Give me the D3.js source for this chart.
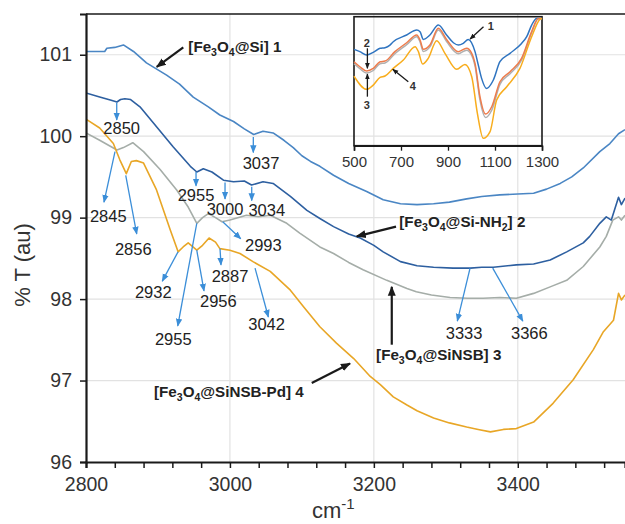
<!DOCTYPE html>
<html>
<head>
<meta charset="utf-8">
<script src="https://cdn.jsdelivr.net/npm/d3@7"></script>
<style>
  body { margin: 0; background: #fff; }
  svg { display: block; }
  text { font-family: "Liberation Sans", Arial, sans-serif; }
</style>
</head>
<body>
<div id="chart"></div>
<script>
// ---- data ----
const xTickLabels = [2800, 3000, 3200, 3400];
const yTickLabels = [96, 97, 98, 99, 100, 101];
const insetTickLabels = [500, 700, 900, 1100, 1300];

// main spectra: [wavenumber, %T]
const series1 = [[2800,101.04],[2826,101.04],[2829,101.08],[2840,101.09],[2852,101.12],[2866,101.04],[2884,100.9],[2912,100.75],[2930,100.64],[2949,100.48],[2970,100.36],[2986,100.26],[3005,100.18],[3020,100.09],[3033,100.02],[3046,100.06],[3060,100.04],[3075,99.95],[3088,99.86],[3100,99.76],[3112,99.69],[3125,99.63],[3144,99.52],[3165,99.42],[3190,99.32],[3213,99.22],[3237,99.17],[3260,99.16],[3283,99.17],[3305,99.19],[3329,99.23],[3350,99.26],[3375,99.28],[3400,99.29],[3422,99.3],[3440,99.35],[3459,99.42],[3475,99.5],[3491,99.61],[3514,99.81],[3528,99.91],[3540,100.03],[3549,100.08]];
const series2 = [[2800,100.53],[2819,100.48],[2835,100.44],[2843,100.42],[2848,100.45],[2854,100.46],[2862,100.45],[2875,100.36],[2894,100.16],[2921,99.87],[2945,99.63],[2954,99.56],[2963,99.6],[2975,99.56],[2991,99.46],[3005,99.44],[3020,99.45],[3030,99.4],[3046,99.44],[3060,99.42],[3084,99.26],[3107,99.09],[3125,98.99],[3144,98.89],[3165,98.8],[3181,98.75],[3200,98.66],[3213,98.58],[3237,98.46],[3260,98.41],[3283,98.39],[3310,98.38],[3334,98.38],[3350,98.39],[3366,98.39],[3398,98.42],[3422,98.43],[3445,98.48],[3468,98.58],[3491,98.69],[3500,98.77],[3514,98.93],[3523,99.01],[3530,98.97],[3540,99.25],[3544,99.16],[3549,99.24]];
const series3 = [[2800,100.04],[2819,99.95],[2835,99.87],[2843,99.83],[2852,99.86],[2865,99.92],[2880,99.81],[2903,99.59],[2926,99.34],[2942,99.13],[2954,98.93],[2962,99.0],[2970,99.05],[2980,99.0],[2989,98.95],[3000,98.97],[3023,99.03],[3040,99.01],[3056,99.03],[3079,98.93],[3097,98.81],[3125,98.64],[3144,98.56],[3165,98.45],[3185,98.36],[3218,98.23],[3246,98.13],[3259,98.09],[3280,98.05],[3306,98.02],[3330,98.01],[3352,98.01],[3375,98.02],[3398,98.01],[3422,98.07],[3445,98.15],[3468,98.23],[3491,98.4],[3514,98.64],[3523,98.77],[3532,98.97],[3540,99.01],[3544,98.97],[3549,99.03]];
const series4 = [[2800,100.21],[2819,100.1],[2838,99.91],[2847,99.71],[2856,99.54],[2863,99.69],[2870,99.7],[2880,99.67],[2898,99.34],[2917,98.85],[2928,98.58],[2935,98.64],[2942,98.69],[2954,98.6],[2962,98.66],[2971,98.75],[2980,98.7],[2986,98.62],[3000,98.6],[3014,98.56],[3032,98.46],[3056,98.34],[3084,98.11],[3102,97.91],[3125,97.66],[3148,97.46],[3172,97.27],[3195,97.05],[3209,96.95],[3227,96.8],[3246,96.7],[3260,96.63],[3283,96.54],[3305,96.48],[3329,96.43],[3345,96.4],[3362,96.37],[3380,96.4],[3398,96.41],[3422,96.49],[3449,96.72],[3477,97.01],[3505,97.38],[3519,97.6],[3533,97.74],[3540,98.07],[3544,97.99],[3549,98.05]];

// inset spectra (500-1300 cm-1), relative units 0-100
const inset1 = [[500,74.7],[525,72.9],[554,70.3],[582,72.4],[611,75.5],[632,76.0],[653,78.0],[667,80.6],[724,85.8],[767,89.7],[781,88.4],[795,82.4],[823,85.8],[859,93.5],[894,85.8],[923,79.8],[944,78.0],[965,79.3],[986,82.4],[1015,72.9],[1029,62.5],[1043,52.2],[1064,44.4],[1093,50.9],[1121,65.1],[1164,71.6],[1213,79.3],[1235,84.5],[1256,93.5],[1277,98.7],[1300,98.7]];
const inset2 = [[500,65.1],[525,61.2],[554,57.9],[582,59.9],[611,65.1],[632,65.6],[674,72.9],[724,79.8],[767,85.8],[781,81.9],[795,74.7],[823,78.0],[859,91.0],[894,82.4],[944,72.9],[979,75.5],[1001,71.6],[1015,63.8],[1036,38.0],[1060,24.5],[1086,30.2],[1121,49.6],[1164,57.4],[1213,67.7],[1256,88.4],[1284,98.7],[1300,98.7]];
const inset3 = [[500,63.5],[525,59.7],[554,56.3],[582,58.3],[611,63.6],[632,64.1],[674,71.3],[724,78.3],[767,84.5],[781,80.5],[795,73.0],[823,76.6],[859,89.7],[894,80.8],[944,71.3],[979,74.0],[1001,70.0],[1015,62.0],[1036,35.5],[1060,21.9],[1086,27.5],[1121,47.5],[1164,55.8],[1213,66.3],[1256,87.5],[1284,98.4],[1300,98.5]];
const inset4 = [[500,54.0],[554,43.7],[582,47.0],[611,53.0],[632,54.0],[667,59.9],[710,66.4],[760,76.7],[774,72.9],[792,63.3],[816,67.7],[852,81.4],[887,71.6],[937,59.2],[972,63.0],[1001,53.5],[1025,25.1],[1050,5.7],[1079,10.9],[1107,35.4],[1150,45.7],[1206,59.9],[1256,84.5],[1291,97.9],[1300,98.7]];

const mainColors = ["#4a86c4", "#2d5fa0", "#a5ada8", "#e8a626"];
// inset drawing order: 3 (gray) first, then 1, 2, 4
const insetSeries = [inset3, inset1, inset2, inset4];
const insetColors = ["#b0b0b0", "#2f74c0", "#ee7c4c", "#f8ad1d"];

// peak call-outs: text, arrow start, arrow end, label position (data units)
const peakLabels = [
  {t: "2850", from: [2842.7,100.41], to: [2842.7,100.2], at: [2849.6,100.10]},
  {t: "3037", from: [3032.5,99.99], to: [3032.5,99.8], at: [3043.2,99.67]},
  {t: "2845", from: [2840.3,99.81], to: [2825,99.19], at: [2831,99.02]},
  {t: "2856", from: [2855.2,99.52], to: [2870.5,98.8], at: [2865.7,98.62]},
  {t: "2955", from: [2952.9,99.56], to: [2952.9,99.39], at: [2952.9,99.28]},
  {t: "3000", from: [2993.2,99.43], to: [2993.2,99.23], at: [2993.2,99.11]},
  {t: "3034", from: [3030.3,99.38], to: [3030.3,99.21], at: [3051.2,99.09]},
  {t: "2993", from: [2990,98.95], to: [3015,98.74], at: [3046.4,98.66]},
  {t: "2932", from: [2927.9,98.58], to: [2906,98.22], at: [2893.5,98.09]},
  {t: "2955", from: [2953.9,98.93], to: [2927.5,97.67], at: [2921.3,97.51]},
  {t: "2956", from: [2953.9,98.6], to: [2964,98.1], at: [2983.9,97.98]},
  {t: "2887", from: [2986.2,98.62], to: [2987.6,98.42], at: [3000.1,98.28]},
  {t: "3042", from: [3034.9,98.38], to: [3053.4,97.78], at: [3051,97.69]},
  {t: "3333", from: [3333.7,98.38], to: [3316,97.73], at: [3325.4,97.58]},
  {t: "3366", from: [3365.2,98.38], to: [3407,97.73], at: [3416.1,97.58]}
];

// sample names ("_x" = subscript x)
const sampleLabels = [
  {t: "[Fe_3O_4@Si] 1", from: [2935.2,101.09], to: [2898.3,100.85], at: [2942.2,101.10]},
  {t: "[Fe_3O_4@Si-NH_2] 2", from: [3230.8,98.89], to: [3176.2,98.77], at: [3235.4,98.95]},
  {t: "[Fe_3O_4@SiNSB] 3", from: [3224.9,97.44], to: [3224.9,98.15], at: [3203.1,97.31]},
  {t: "[Fe_3O_4@SiNSB-Pd] 4", from: [3113.7,96.97], to: [3166.9,97.21], at: [2894.5,96.86]}
];

const insetLabels = [
  {t: "1", from: [1051,92.2], to: [994,82.7], at: [1082,92.8]},
  {t: "2", from: [557,75.5], to: [557,60], at: [554,79.8]},
  {t: "3", from: [557,38], to: [557,55.6], at: [554,31.6]},
  {t: "4", from: [731,49.6], to: [665,59.2], at: [750,46.3]}
];

// ---- chart ----
const W = 625, H = 524;
const margin = {top: 14, left: 86, bottom: 62};

const svg = d3.select("#chart").append("svg")
  .attr("width", W).attr("height", H);

const defs = svg.append("defs");
function marker(id, color, size){
  defs.append("marker")
    .attr("id", id)
    .attr("viewBox", "0 0 10 10")
    .attr("refX", 9).attr("refY", 5)
    .attr("markerWidth", size).attr("markerHeight", size)
    .attr("markerUnits", "userSpaceOnUse")
    .attr("orient", "auto")
    .append("path").attr("d", "M0,1L10,5L0,9Z").attr("fill", color);
}
marker("headBlue", "#3b8ed8", 8);
marker("headBlack", "#1a1a1a", 10);
marker("headSmall", "#1a1a1a", 6);

const x = d3.scaleLinear().domain([2800, 3549]).range([margin.left, W]);
const y = d3.scaleLinear().domain([96, 101.5]).range([H - margin.bottom, margin.top]);

// gridlines
svg.append("g").selectAll("line")
  .data(yTickLabels.slice(1))
  .join("line")
  .attr("x1", margin.left).attr("x2", W)
  .attr("y1", d => y(d)).attr("y2", d => y(d))
  .attr("stroke", "#e2e2e2").attr("stroke-width", 1.2);
svg.append("g").selectAll("line")
  .data(xTickLabels.slice(1))
  .join("line")
  .attr("x1", d => x(d)).attr("x2", d => x(d))
  .attr("y1", margin.top).attr("y2", H - margin.bottom)
  .attr("stroke", "#e2e2e2").attr("stroke-width", 1.2);

// clip for spectra
defs.append("clipPath").attr("id", "plotClip")
  .append("rect")
  .attr("x", margin.left).attr("y", margin.top)
  .attr("width", W - margin.left).attr("height", H - margin.bottom - margin.top);

const line = d3.line().x(d => x(d[0])).y(d => y(d[1]));
svg.append("g").attr("clip-path", "url(#plotClip)")
  .selectAll("path")
  .data([series1, series2, series3, series4])
  .join("path")
  .attr("fill", "none")
  .attr("stroke", (d, i) => mainColors[i])
  .attr("stroke-width", 1.6)
  .attr("stroke-linejoin", "round")
  .attr("d", line);

// axes
const xAxis = svg.append("g")
  .attr("transform", `translate(0,${H - margin.bottom})`)
  .call(d3.axisBottom(x)
    .tickValues(d3.range(2800, 3549, 40))
    .tickSize(6).tickPadding(9)
    .tickFormat(d => xTickLabels.includes(d) ? d : ""));
const yAxis = svg.append("g")
  .attr("transform", `translate(${margin.left},0)`)
  .call(d3.axisLeft(y).tickValues(yTickLabels).tickFormat(d3.format("d"))
    .tickSize(6).tickPadding(8));
[xAxis, yAxis].forEach(a => {
  a.select(".domain").attr("stroke", "#1a1a1a").attr("stroke-width", 2.2);
  a.selectAll(".tick line").attr("stroke", "#1a1a1a").attr("stroke-width", 1.5);
  a.selectAll(".tick text").attr("font-size", 19.5).attr("fill", "#333")
    .style("font-family", "'Liberation Sans', Arial, sans-serif");
});
// top frame line
svg.append("line")
  .attr("x1", margin.left).attr("x2", W)
  .attr("y1", margin.top).attr("y2", margin.top)
  .attr("stroke", "#1a1a1a").attr("stroke-width", 1.6);

// axis titles
svg.append("text")
  .attr("transform", `translate(30,265) rotate(-90)`)
  .attr("text-anchor", "middle")
  .attr("font-size", 22).attr("fill", "#333")
  .text("% T (au)");
const xt = svg.append("text")
  .attr("x", 312).attr("y", 518)
  .attr("font-size", 22).attr("fill", "#333");
xt.append("tspan").text("cm");
xt.append("tspan").attr("dy", -9).attr("font-size", 15).text("-1");

// peak call-outs
const peaks = svg.append("g");
peaks.selectAll("line")
  .data(peakLabels)
  .join("line")
  .attr("x1", d => x(d.from[0])).attr("y1", d => y(d.from[1]))
  .attr("x2", d => x(d.to[0])).attr("y2", d => y(d.to[1]))
  .attr("stroke", "#3b8ed8").attr("stroke-width", 1.3)
  .attr("marker-end", "url(#headBlue)");
peaks.selectAll("text")
  .data(peakLabels)
  .join("text")
  .attr("x", d => x(d.at[0])).attr("y", d => y(d.at[1]))
  .attr("dy", "0.36em")
  .attr("text-anchor", "middle")
  .attr("font-size", 16.5).attr("fill", "#222")
  .text(d => d.t);

// write "Fe_3O_4" style text with subscripts
function richText(sel, str){
  const parts = str.split(/_(.)/);
  parts.forEach((p, i) => {
    if (!p) return;
    if (i % 2 === 1) {
      sel.append("tspan").attr("dy", 4).attr("font-size", 10.5).text(p);
    } else {
      const ts = sel.append("tspan").text(p);
      if (i > 0) ts.attr("dy", -4);
    }
  });
}

const names = svg.append("g");
names.selectAll("line")
  .data(sampleLabels)
  .join("line")
  .attr("x1", d => x(d.from[0])).attr("y1", d => y(d.from[1]))
  .attr("x2", d => x(d.to[0])).attr("y2", d => y(d.to[1]))
  .attr("stroke", "#1a1a1a").attr("stroke-width", 2.2)
  .attr("marker-end", "url(#headBlack)");
names.selectAll("text")
  .data(sampleLabels)
  .join("text")
  .attr("x", d => x(d.at[0])).attr("y", d => y(d.at[1]) + 5)
  .attr("font-size", 15.2).attr("font-weight", "bold").attr("fill", "#222")
  .each(function(d){ richText(d3.select(this), d.t); });

// ---- inset ----
const ix = d3.scaleLinear().domain([500, 1300]).range([354, 542]);
const iy = d3.scaleLinear().domain([0, 100]).range([145.7, 16.7]);
const inset = svg.append("g");
inset.append("rect")
  .attr("x", ix(500)).attr("y", iy(100))
  .attr("width", ix(1300) - ix(500)).attr("height", iy(0) - iy(100))
  .attr("fill", "none").attr("stroke", "#1a1a1a").attr("stroke-width", 1.6);
const iline = d3.line().x(d => ix(d[0])).y(d => iy(d[1])).curve(d3.curveMonotoneX);
inset.selectAll("path.spec")
  .data(insetSeries)
  .join("path")
  .attr("class", "spec")
  .attr("fill", "none")
  .attr("stroke", (d, i) => insetColors[i])
  .attr("stroke-width", 1.5)
  .attr("d", iline);
const ixAxis = inset.append("g")
  .attr("transform", `translate(0,${iy(0)})`)
  .call(d3.axisBottom(ix).tickValues(insetTickLabels).tickFormat(d3.format("d"))
    .tickSize(5).tickPadding(6));
ixAxis.select(".domain").attr("stroke", "#1a1a1a").attr("stroke-width", 1.6);
ixAxis.selectAll(".tick line").attr("stroke", "#1a1a1a").attr("stroke-width", 1.3);
ixAxis.selectAll(".tick text").attr("font-size", 15).attr("fill", "#333")
  .style("font-family", "'Liberation Sans', Arial, sans-serif");

inset.selectAll("line.arr")
  .data(insetLabels)
  .join("line")
  .attr("class", "arr")
  .attr("x1", d => ix(d.from[0])).attr("y1", d => iy(d.from[1]))
  .attr("x2", d => ix(d.to[0])).attr("y2", d => iy(d.to[1]))
  .attr("stroke", "#1a1a1a").attr("stroke-width", 1.3)
  .attr("marker-end", "url(#headSmall)");
inset.selectAll("text.lab")
  .data(insetLabels)
  .join("text")
  .attr("class", "lab")
  .attr("x", d => ix(d.at[0])).attr("y", d => iy(d.at[1]))
  .attr("dy", "0.36em").attr("text-anchor", "middle")
  .attr("font-size", 11).attr("font-weight", "bold").attr("fill", "#333")
  .text(d => d.t);
</script>
</body>
</html>
